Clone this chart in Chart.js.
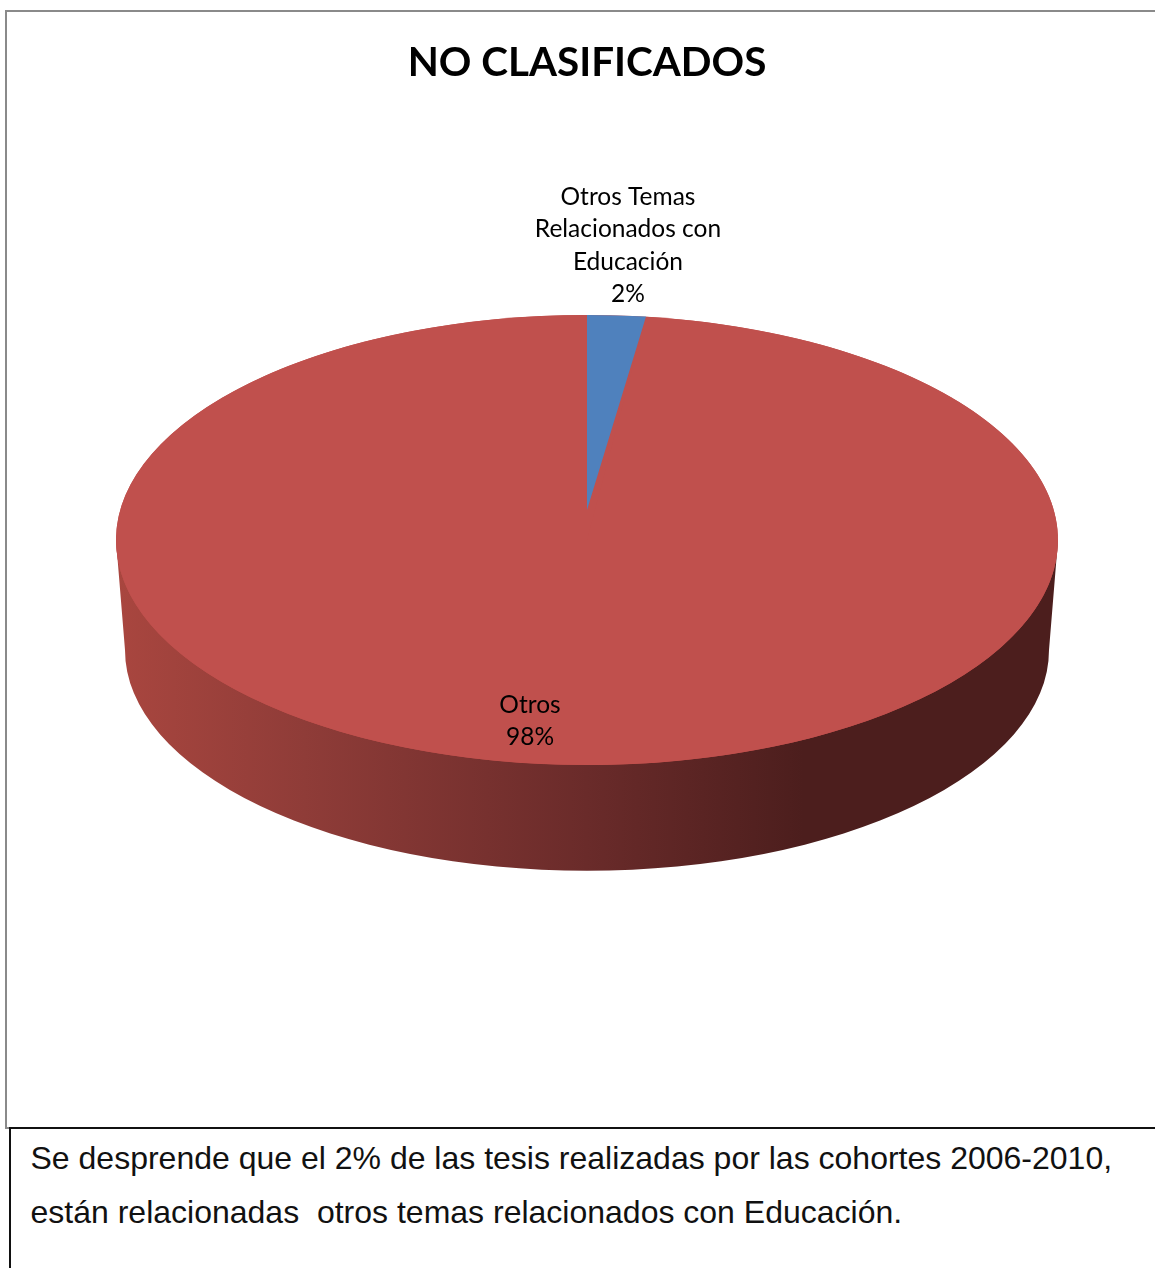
<!DOCTYPE html>
<html lang="es">
<head>
<meta charset="utf-8">
<title>NO CLASIFICADOS</title>
<script src="https://cdn.jsdelivr.net/npm/chart.js@4"></script>
<style>
    html, body { margin: 0; padding: 0; background: #fff; }
    #page { position: relative; width: 1155px; height: 1268px; overflow: hidden; }
    #frame { position: absolute; left: 5px; top: 10px; width: 1160px; height: 1115px; border: 2px solid #8a8a8a; }
    #note { position: absolute; left: 9px; top: 1127px; width: 1160px; height: 150px; border-left: 2px solid #111; border-top: 2px solid #111; }
    #note p { margin: 0; position: absolute; left: 19.5px; top: 2px; font: 32px/54px "Liberation Sans", Arial, sans-serif; color: #111; white-space: pre; }
    canvas { position: absolute; left: 0; top: 0; }
</style>
</head>
<body>
<div id="page">
    <div id="frame"></div>
    <div id="note"><p>Se desprende que el 2% de las tesis realizadas por las cohortes 2006-2010,
están relacionadas  otros temas relacionados con Educación.</p></div>
    <canvas id="pieChart" width="1155" height="1268"></canvas>
</div>
<script>
const titleText = 'NO CLASIFICADOS';
const categories = ['Otros', 'Otros Temas Relacionados con Educación'];
const shares = [98, 2];
const sliceColors = ['#C0504D', '#4F81BD'];

// Tilt of the fake 3D disc, as ratios of the pie radius
const TILT = 225 / 471;
const TOP_Y = 540;
const BLUE_Y = 510;
const BLUE_TILT = 195 / 471;
const DEPTH = 110;
const BASE_SCALE = 462 / 471;

function squash(ctx, arc, targetY, tilt) {
    ctx.translate(arc.x, targetY);
    ctx.scale(1, tilt);
    ctx.translate(-arc.x, -arc.y);
}

const tiltPlugin = {
    id: 'tilt',
    beforeDatasetsDraw(chart) {
        const ctx = chart.ctx;
        const arcs = chart.getDatasetMeta(0).data;
        const arc = arcs[0];
        const r = arc.outerRadius;

        // Side wall
        const grad = ctx.createLinearGradient(arc.x - r, 0, arc.x + r, 0);
        grad.addColorStop(0, '#a9463f');
        grad.addColorStop(0.2, '#8f3c38');
        grad.addColorStop(0.5, '#6a2b2a');
        grad.addColorStop(0.73, '#4c1e1d');
        grad.addColorStop(1, '#4c1e1d');
        const baseR = r * BASE_SCALE;
        const baseY = TOP_Y + DEPTH;
        ctx.save();
        ctx.fillStyle = grad;
        ctx.beginPath();
        ctx.moveTo(arc.x - r, TOP_Y);
        ctx.lineTo(arc.x - baseR, baseY);
        ctx.ellipse(arc.x, baseY, baseR, baseR * TILT, 0, Math.PI, 0, true);
        ctx.lineTo(arc.x + r, TOP_Y);
        ctx.closePath();
        ctx.fill();

        // Backing disc, covers the seam between the two squashed slices
        ctx.fillStyle = sliceColors[0];
        ctx.beginPath();
        ctx.ellipse(arc.x, TOP_Y, r, r * TILT, 0, 0, Math.PI * 2);
        ctx.fill();
        ctx.restore();

        // Each slice gets its own squash, the small one has its tip further back
        arcs.forEach((el, i) => {
            if (el.tiltWrapped) return;
            el.tiltWrapped = true;
            const draw = el.draw;
            el.draw = function (c, area) {
                c.save();
                if (i === 1) squash(c, el, BLUE_Y, BLUE_TILT);
                else squash(c, el, TOP_Y, TILT);
                draw.call(el, c, area);
                c.restore();
            };
        });
    },
    afterDatasetsDraw(chart) {
        const ctx = chart.ctx;
        const total = shares.reduce((a, b) => a + b, 0);
        const anchors = [{ x: 530, y: 705 }, { x: 628, y: 197 }];
        ctx.save();
        ctx.font = '24.5px Lato, "Open Sans", sans-serif';
        ctx.fillStyle = '#000';
        ctx.textAlign = 'center';
        ctx.textBaseline = 'middle';
        categories.forEach((name, i) => {
            const lines = [];
            name.split(' ').forEach(word => {
                const last = lines[lines.length - 1];
                if (last && ctx.measureText(last + ' ' + word).width < 200) lines[lines.length - 1] = last + ' ' + word;
                else lines.push(word);
            });
            lines.push(Math.round(shares[i] / total * 100) + '%');
            lines.forEach((line, n) => ctx.fillText(line, anchors[i].x, anchors[i].y + n * 32.5));
        });
        ctx.restore();
    }
};

new Chart(document.getElementById('pieChart').getContext('2d'), {
    type: 'pie',
    data: {
        labels: categories,
        datasets: [{ data: shares, backgroundColor: sliceColors, borderWidth: 0 }]
    },
    options: {
        responsive: false,
        animation: false,
        rotation: 7.2,
        layout: { padding: { left: 116, right: 97, top: 0, bottom: 0 } },
        plugins: {
            legend: { display: false },
            tooltip: { enabled: false },
            title: {
                display: true,
                text: titleText,
                fullSize: false,
                color: '#000',
                font: { family: 'Lato, "Open Sans", sans-serif', size: 40.4, weight: 'bold' },
                padding: { top: 39, bottom: 20 }
            }
        }
    },
    plugins: [tiltPlugin]
});
</script>
</body>
</html>
